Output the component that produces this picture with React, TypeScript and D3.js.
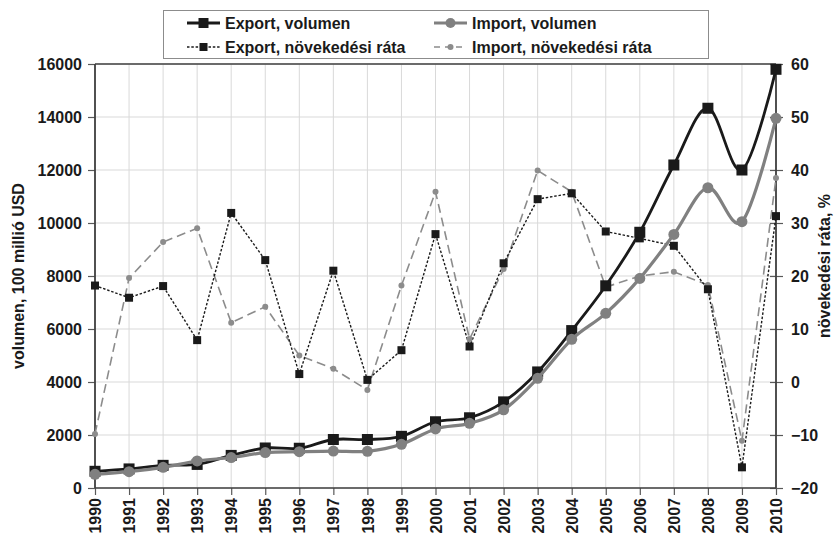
import * as d3 from 'd3'
import { useRef, useEffect } from 'react'

const years = [1990, 1991, 1992, 1993, 1994, 1995, 1996, 1997, 1998, 1999, 2000, 2001, 2002, 2003, 2004, 2005, 2006, 2007, 2008, 2009, 2010]
const exportVolume = [630, 720, 855, 890, 1230, 1510, 1500, 1830, 1830, 1950, 2500, 2650, 3250, 4380, 5940, 7630, 9650, 12190, 14330, 12000, 15800]
const importVolume = [515, 615, 780, 1020, 1150, 1335, 1370, 1395, 1385, 1650, 2230, 2440, 2950, 4140, 5610, 6590, 7910, 9570, 11330, 10050, 13950]
const exportRate = [18.2, 15.9, 18.1, 7.9, 31.9, 23.0, 1.5, 21.0, 0.4, 6.0, 27.9, 6.7, 22.4, 34.5, 35.6, 28.4, 27.1, 25.7, 17.5, -16.1, 31.3]
const importRate = [-9.8, 19.6, 26.4, 29.0, 11.2, 14.2, 5.0, 2.5, -1.5, 18.2, 35.9, 8.1, 21.3, 39.9, 35.9, 17.9, 20.0, 20.8, 18.3, -11.1, 38.5]
const leftTicks = [0, 2000, 4000, 6000, 8000, 10000, 12000, 14000, 16000]
const rightTicks = [-20, -10, 0, 10, 20, 30, 40, 50, 60]
const legendLabels = ['Export, volumen', 'Import, volumen', 'Export, növekedési ráta', 'Import, növekedési ráta']

export default function App() {
    const svgRef = useRef(null)
    const width = 835
    const height = 535

    useEffect(() => {
        const svg = d3.select(svgRef.current)
        svg.selectAll('*').remove()

        const font = '"Liberation Sans", Arial, sans-serif'
        const left = 95, right = 776, top = 64, bottom = 488
        const dark = '#1a1a1a', gray = '#808080', lightGray = '#8c8c8c'

        const x = d3.scaleLinear().domain([1990, 2010]).range([left, right])
        const yL = d3.scaleLinear().domain([0, 16000]).range([bottom, top])
        const yR = d3.scaleLinear().domain([-20, 60]).range([bottom, top])

        svg.append('rect').attr('width', width).attr('height', height).attr('fill', '#fff')

        // grid
        const grid = svg.append('g').attr('stroke', '#d9d9d9').attr('stroke-width', 1)
        years.forEach(yr => {
            grid.append('line').attr('x1', x(yr)).attr('x2', x(yr)).attr('y1', top).attr('y2', bottom)
        })
        leftTicks.forEach(t => {
            grid.append('line').attr('x1', left).attr('x2', right).attr('y1', yL(t)).attr('y2', yL(t))
        })

        // axes
        const axL = svg.append('g').attr('transform', `translate(${left},0)`)
            .call(d3.axisLeft(yL).tickValues(leftTicks).tickSize(7).tickPadding(6).tickFormat(d3.format('d')))
        const axR = svg.append('g').attr('transform', `translate(${right},0)`)
            .call(d3.axisRight(yR).tickValues(rightTicks).tickSize(7).tickPadding(8).tickFormat(d3.format('d')))
        const axB = svg.append('g').attr('transform', `translate(0,${bottom})`)
            .call(d3.axisBottom(x).tickValues(years).tickSize(7).tickFormat(d3.format('d')))
        ;[axL, axR, axB].forEach(ax => {
            ax.select('.domain').remove()
            ax.selectAll('line').attr('stroke', '#595959').attr('stroke-width', 1.2)
            ax.selectAll('text').attr('font-family', font).attr('font-size', 16).attr('font-weight', 'bold').attr('fill', dark)
        })
        axR.selectAll('line').attr('x1', -6)
        axB.selectAll('text')
            .attr('text-anchor', 'end')
            .attr('transform', 'rotate(-90)')
            .attr('x', -10).attr('y', 0).attr('dy', '0.35em')

        // frame
        const frame = svg.append('g').attr('stroke', '#404040').attr('fill', 'none')
        frame.append('line').attr('x1', left).attr('x2', right).attr('y1', top).attr('y2', top).attr('stroke-width', 1.5)
        frame.append('line').attr('x1', left).attr('x2', right).attr('y1', bottom).attr('y2', bottom).attr('stroke-width', 1.5)
        frame.append('line').attr('x1', left).attr('x2', left).attr('y1', top).attr('y2', bottom).attr('stroke-width', 1.8)
        frame.append('line').attr('x1', right).attr('x2', right).attr('y1', top).attr('y2', bottom).attr('stroke-width', 1.8)

        // axis titles
        svg.append('text').attr('transform', `translate(24,${(top + bottom) / 2}) rotate(-90)`)
            .attr('text-anchor', 'middle').attr('font-family', font).attr('font-size', 16).attr('font-weight', 'bold')
            .attr('fill', dark).text('volumen, 100 millió USD')
        svg.append('text').attr('transform', `translate(830,${(top + bottom) / 2 - 10}) rotate(-90)`)
            .attr('text-anchor', 'middle').attr('font-family', font).attr('font-size', 16).attr('font-weight', 'bold')
            .attr('fill', dark).text('növekedési ráta, %')

        // rate lines
        const rateLine = d3.line<number>().x((_, i) => x(years[i])).y(d => yR(d))
        svg.append('path').attr('d', rateLine(importRate)).attr('fill', 'none')
            .attr('stroke', lightGray).attr('stroke-width', 1.6).attr('stroke-dasharray', '9,5')
        svg.append('path').attr('d', rateLine(exportRate)).attr('fill', 'none')
            .attr('stroke', dark).attr('stroke-width', 1.4).attr('stroke-dasharray', '2.5,1.8')
        svg.append('g').selectAll('circle').data(importRate).enter().append('circle')
            .attr('cx', (_, i) => x(years[i])).attr('cy', d => yR(d)).attr('r', 3).attr('fill', lightGray)
        svg.append('g').selectAll('rect').data(exportRate).enter().append('rect')
            .attr('x', (_, i) => x(years[i]) - 4).attr('y', d => yR(d) - 4).attr('width', 8).attr('height', 8).attr('fill', dark)

        // volume lines
        const volLine = d3.line<number>().x((_, i) => x(years[i])).y(d => yL(d)).curve(d3.curveCardinal.tension(0))
        svg.append('path').attr('d', volLine(exportVolume)).attr('fill', 'none')
            .attr('stroke', dark).attr('stroke-width', 2.8)
        svg.append('g').selectAll('rect').data(exportVolume).enter().append('rect')
            .attr('x', (_, i) => x(years[i]) - 5.5).attr('y', d => yL(d) - 5.5).attr('width', 11).attr('height', 11).attr('fill', dark)
        svg.append('path').attr('d', volLine(importVolume)).attr('fill', 'none')
            .attr('stroke', gray).attr('stroke-width', 3.2)
        svg.append('g').selectAll('circle').data(importVolume).enter().append('circle')
            .attr('cx', (_, i) => x(years[i])).attr('cy', d => yL(d)).attr('r', 5.5).attr('fill', gray)

        // legend
        const lg = svg.append('g')
        lg.append('rect').attr('x', 163.5).attr('y', 10.5).attr('width', 545).attr('height', 48)
            .attr('fill', '#fff').attr('stroke', '#8c8c8c').attr('stroke-width', 1)
        const items = [
            { x: 187, y: 23, kind: 'expVol' },
            { x: 434, y: 23, kind: 'impVol' },
            { x: 187, y: 47, kind: 'expRate' },
            { x: 434, y: 47, kind: 'impRate' },
        ]
        items.forEach((it, k) => {
            const g = lg.append('g')
            const x0 = it.x, x1 = it.x + 33, cx = it.x + 16.5
            if (it.kind === 'expVol') {
                g.append('line').attr('x1', x0).attr('x2', x1).attr('y1', it.y).attr('y2', it.y).attr('stroke', dark).attr('stroke-width', 2.8)
                g.append('rect').attr('x', cx - 5).attr('y', it.y - 5).attr('width', 10).attr('height', 10).attr('fill', dark)
            } else if (it.kind === 'impVol') {
                g.append('line').attr('x1', x0).attr('x2', x1).attr('y1', it.y).attr('y2', it.y).attr('stroke', gray).attr('stroke-width', 3)
                g.append('circle').attr('cx', cx).attr('cy', it.y).attr('r', 5).attr('fill', gray)
            } else if (it.kind === 'expRate') {
                g.append('line').attr('x1', x0).attr('x2', x1).attr('y1', it.y).attr('y2', it.y).attr('stroke', dark).attr('stroke-width', 1.4).attr('stroke-dasharray', '2.5,1.8')
                g.append('rect').attr('x', cx - 4).attr('y', it.y - 4).attr('width', 8).attr('height', 8).attr('fill', dark)
            } else {
                g.append('line').attr('x1', x0).attr('x2', x1).attr('y1', it.y).attr('y2', it.y).attr('stroke', lightGray).attr('stroke-width', 1.6).attr('stroke-dasharray', '6,5')
                g.append('circle').attr('cx', cx).attr('cy', it.y).attr('r', 3).attr('fill', lightGray)
            }
            g.append('text').attr('x', x1 + 5).attr('y', it.y).attr('dy', '0.36em')
                .attr('font-family', font).attr('font-size', 16).attr('font-weight', 'bold').attr('fill', dark)
                .text(legendLabels[k])
        })
    }, [])

    return (
        <svg ref={svgRef} width={width} height={height} style={{ position: 'absolute', left: 0, top: 0 }}></svg>
    )
}
